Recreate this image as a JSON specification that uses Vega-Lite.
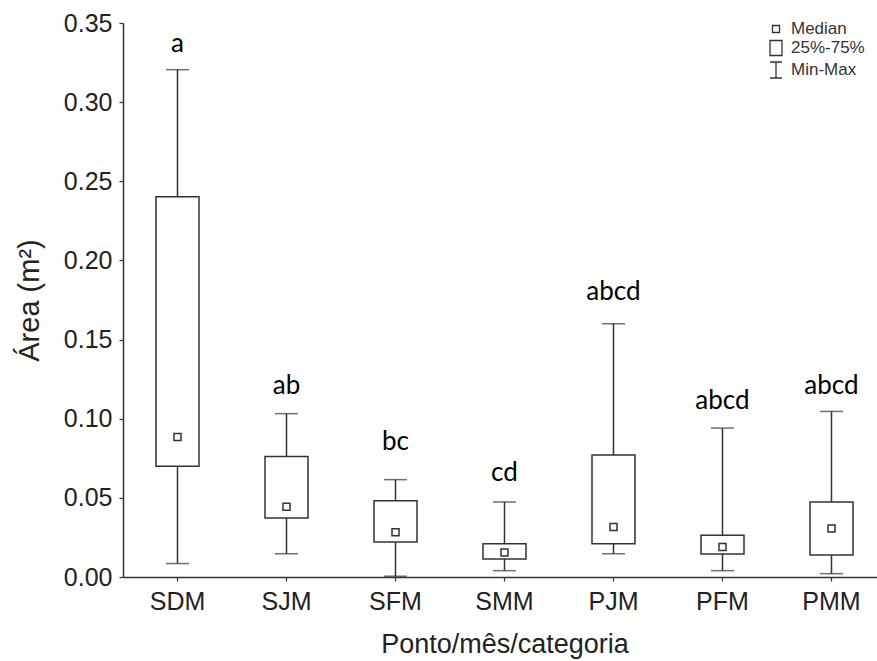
{
  "$schema": "https://vega.github.io/schema/vega-lite/v6.json",
  "width": 754,
  "height": 554,
  "autosize": "none",
  "padding": {"left": 123, "top": 23, "right": 0, "bottom": 84},
  "background": "white",
  "config": {
    "view": {"stroke": null},
    "axis": {
      "grid": false,
      "domainColor": "#333333",
      "domainWidth": 1.5,
      "tickColor": "#333333",
      "tickWidth": 1.2,
      "tickSize": 4,
      "labelFont": "Liberation Sans",
      "labelFontSize": 25,
      "labelColor": "#222222",
      "titleFont": "Liberation Sans",
      "titleFontWeight": "normal",
      "titleColor": "#222222"
    }
  },
  "datasets": {
    "stats": [
      {"cat": "SDM", "min": 0.0085, "q1": 0.0700, "median": 0.0884, "q3": 0.2403, "max": 0.3205, "letter": "a", "ly": 0.3314},
      {"cat": "SJM", "min": 0.0147, "q1": 0.0373, "median": 0.0444, "q3": 0.0762, "max": 0.1032, "letter": "ab", "ly": 0.1156},
      {"cat": "SFM", "min": 0.0005, "q1": 0.0221, "median": 0.0282, "q3": 0.0482, "max": 0.0615, "letter": "bc", "ly": 0.0800},
      {"cat": "SMM", "min": 0.0040, "q1": 0.0114, "median": 0.0155, "q3": 0.0210, "max": 0.0474, "letter": "cd", "ly": 0.0604},
      {"cat": "PJM", "min": 0.0147, "q1": 0.0210, "median": 0.0316, "q3": 0.0771, "max": 0.1600, "letter": "abcd", "ly": 0.1752},
      {"cat": "PFM", "min": 0.0040, "q1": 0.0145, "median": 0.0190, "q3": 0.0263, "max": 0.0941, "letter": "abcd", "ly": 0.1061},
      {"cat": "PMM", "min": 0.0021, "q1": 0.0139, "median": 0.0307, "q3": 0.0474, "max": 0.1046, "letter": "abcd", "ly": 0.1158}
    ],
    "legend": [
      {"item": "Median"},
      {"item": "25%-75%"},
      {"item": "Min-Max"}
    ]
  },
  "layer": [
    {
      "data": {"name": "stats"},
      "layer": [
        {
          "mark": {"type": "rule", "color": "#333333", "strokeWidth": 1.5},
          "encoding": {
            "x": {"field": "cat", "type": "nominal", "sort": null},
            "y": {"field": "min", "type": "quantitative"},
            "y2": {"field": "max"}
          }
        },
        {
          "mark": {"type": "tick", "color": "#333333", "size": 23, "thickness": 1.5},
          "encoding": {
            "x": {"field": "cat", "type": "nominal", "sort": null},
            "y": {"field": "min", "type": "quantitative"}
          }
        },
        {
          "mark": {"type": "tick", "color": "#333333", "size": 23, "thickness": 1.5},
          "encoding": {
            "x": {"field": "cat", "type": "nominal", "sort": null},
            "y": {"field": "max", "type": "quantitative"}
          }
        },
        {
          "mark": {"type": "bar", "width": 43, "fill": "white", "stroke": "#333333", "strokeWidth": 1.5},
          "encoding": {
            "x": {"field": "cat", "type": "nominal", "sort": null},
            "y": {"field": "q1", "type": "quantitative"},
            "y2": {"field": "q3"}
          }
        },
        {
          "mark": {"type": "point", "shape": "square", "size": 49, "filled": true, "fill": "white", "stroke": "#333333", "strokeWidth": 1.5, "opacity": 1},
          "encoding": {
            "x": {"field": "cat", "type": "nominal", "sort": null},
            "y": {"field": "median", "type": "quantitative"}
          }
        },
        {
          "mark": {"type": "text", "font": "Lato", "fontSize": 26, "color": "black", "baseline": "alphabetic", "align": "center"},
          "encoding": {
            "x": {"field": "cat", "type": "nominal", "sort": null},
            "y": {"field": "ly", "type": "quantitative"},
            "text": {"field": "letter"}
          }
        }
      ],
      "encoding": {
        "x": {
          "field": "cat",
          "type": "nominal",
          "sort": null,
          "title": "Ponto/mês/categoria",
          "scale": {"range": [0, 763], "paddingInner": 0, "paddingOuter": 0},
          "axis": {"labelAngle": 0, "labelPadding": 8, "titlePadding": 17, "titleFontSize": 27}
        },
        "y": {
          "type": "quantitative",
          "title": "Área (m²)",
          "scale": {"domain": [0, 0.35], "nice": false, "zero": true},
          "axis": {"values": [0, 0.05, 0.1, 0.15, 0.2, 0.25, 0.3, 0.35], "format": ".2f", "labelPadding": 7, "titlePadding": 19, "titleFontSize": 29}
        }
      }
    },
    {
      "data": {"name": "legend"},
      "mark": {"type": "point", "opacity": 0},
      "encoding": {
        "shape": {
          "field": "item",
          "type": "nominal",
          "sort": null,
          "scale": {
            "domain": ["Median", "25%-75%", "Min-Max"],
            "range": ["M-0.44,-0.44H0.44V0.44H-0.44Z", "M-0.75,-0.94H0.75V0.94H-0.75Z", "M-0.75,-1H0.75M0,-1V1M-0.75,1H0.75"]
          },
          "legend": {
            "title": null,
            "orient": "none",
            "legendX": 644,
            "legendY": -3,
            "symbolSize": 256,
            "symbolOpacity": 1,
            "symbolFillColor": "white",
            "symbolStrokeColor": "#333333",
            "symbolStrokeWidth": 1.3,
            "labelFont": "Liberation Sans",
            "labelFontSize": 17,
            "labelColor": "#333333",
            "labelOffset": 6,
            "rowPadding": 0,
            "padding": 0
          }
        }
      }
    }
  ]
}
